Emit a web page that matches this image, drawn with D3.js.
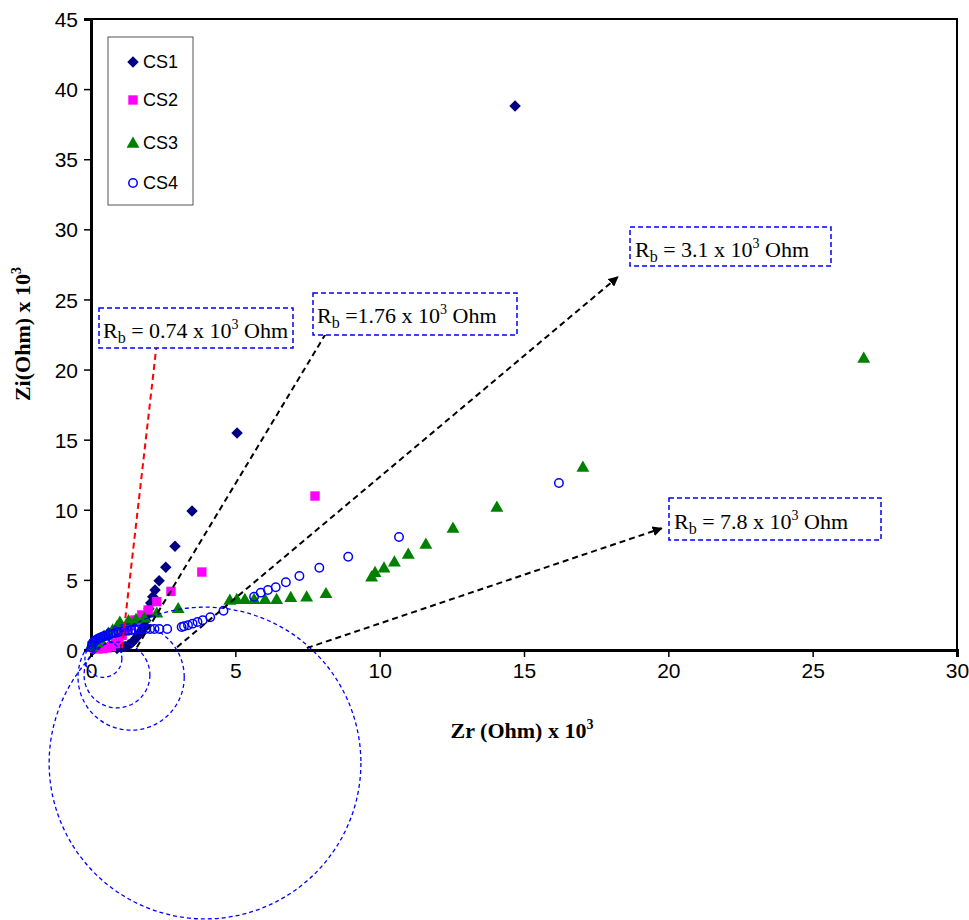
<!DOCTYPE html>
<html>
<head>
<meta charset="utf-8">
<script src="https://cdn.jsdelivr.net/npm/d3@7"></script>
<style>
  body { margin: 0; background: #fff; }
  svg { display: block; }
</style>
</head>
<body>
<svg id="chart" width="969" height="920"></svg>
<script>
// ---- data: Nyquist points, Zr and Zi in units of 10^3 Ohm ----
const seriesNames = ["CS1", "CS2", "CS3", "CS4"];

const cs1 = [[0.9,0.1],[1.05,0.18],[1.18,0.25],[1.3,0.35],[1.4,0.5],[1.48,0.66],[1.56,0.86],[1.63,1.05],
  [1.7,1.25],[1.77,1.45],[1.84,1.75],[1.9,2.1],[1.96,2.5],[2.01,2.95],[2.07,3.35],[2.14,3.8],[2.22,4.28],
  [2.36,4.94],[2.59,5.9],[2.91,7.4],[3.5,9.91],[5.06,15.48],[14.69,38.8]];

const cs2 = [[0.03,0.3],[0.12,0.12],[0.25,0.08],[0.4,0.1],[0.55,0.15],[0.7,0.25],[0.85,0.45],[0.97,0.75],
  [1.08,1.05],[1.2,1.35],[1.35,1.75],[1.52,2.14],[1.76,2.5],[1.98,2.85],[2.28,3.45],[2.77,4.18],
  [3.84,5.56],[7.76,10.98]];

const cs3 = [[0.03,0.2],[0.1,0.35],[0.2,0.55],[0.32,0.78],[0.45,1.0],[0.6,1.22],[0.75,1.45],[0.9,1.7],
  [1.0,2.0],[1.3,2.1],[1.56,2.2],[1.85,2.3],[2.28,2.65],[3.02,2.97],[4.81,3.57],[5.05,3.62],[5.33,3.62],
  [5.65,3.62],[6.03,3.62],[6.43,3.62],[6.92,3.76],[7.47,3.8],[8.14,4.04],[9.72,5.23],[9.84,5.54],
  [10.15,5.87],[10.51,6.3],[10.99,6.85],[11.6,7.56],[12.54,8.7],[14.06,10.2],[17.04,13.05],[26.77,20.83]];

const cs4 = [[0.02,0.2],[0.04,0.35],[0.06,0.5],[0.1,0.6],[0.15,0.68],[0.2,0.75],[0.26,0.82],[0.32,0.88],
  [0.38,0.93],[0.45,0.98],[0.52,1.03],[0.6,1.08],[0.68,1.13],[0.77,1.18],[0.86,1.23],[0.96,1.28],
  [1.06,1.33],[1.17,1.37],[1.28,1.4],[1.4,1.43],[1.52,1.45],[1.65,1.47],[1.78,1.48],[1.9,1.49],
  [2.05,1.5],[2.2,1.5],[2.37,1.5],[2.64,1.5],[3.14,1.64],[3.22,1.69],[3.36,1.76],[3.52,1.88],
  [3.69,2.0],[3.87,2.12],[4.13,2.33],[4.59,2.8],[5.65,3.8],[5.88,4.09],[6.13,4.28],[6.4,4.47],
  [6.75,4.83],[7.22,5.28],[7.91,5.87],[8.91,6.65],[10.67,8.06],[16.21,11.91]];

const xTicks = [0, 5, 10, 15, 20, 25, 30];
const yTicks = [0, 5, 10, 15, 20, 25, 30, 35, 40, 45];

// bulk-resistance readings (10^3 Ohm) shown in the call-out boxes
const rbValues = ["0.74", "1.76", "3.1", "7.8"];
const rbEquals = [" = ", " =", " = ", " = "];

// fitted semicircle outlines: centre (Zr, Zi) and radius in Zr units
const fitCircles = [
  { cx: 0.43, cy: -0.63, r: 0.64 },
  { cx: 0.90, cy: -1.78, r: 1.14 },
  { cx: 1.39, cy: -1.93, r: 1.84 },
  { cx: 3.95, cy: -8.06, r: 5.40 }
];

// arrows from each intercept up to its call-out box (Zr, Zi)
const rbArrows = [
  { from: [1.07, 0.14], to: [2.32, 22.6] },
  { from: [1.59, 0.2],  to: [8.38, 23.4] },
  { from: [2.98, 0.2],  to: [18.25, 26.6] },
  { from: [7.48, 0.14], to: [19.77, 8.68] }
];

// ---- layout ----
const plot = { left: 91, right: 957, top: 19, bottom: 650 };
const colors = { CS1: "#000080", CS2: "#FF00FF", CS3: "#008000", CS4: "#0000FF" };
const boxes = [
  { x: 99,  y: 308, w: 194, h: 40, tx: 103, ty: 338 },
  { x: 313, y: 293, w: 204, h: 42, tx: 317, ty: 323 },
  { x: 630, y: 227, w: 201, h: 39, tx: 635, ty: 257 },
  { x: 669, y: 498, w: 212, h: 42, tx: 674, ty: 529 }
];
const arrowColors = ["#FF0000", "#000000", "#000000", "#000000"];

const svg = d3.select("#chart");
const x = d3.scaleLinear().domain([0, 30]).range([plot.left, plot.right]);
const y = d3.scaleLinear().domain([0, 45]).range([plot.bottom, plot.top]);

// plot frame (top and right edges)
svg.append("path")
  .attr("d", `M${plot.left},${plot.top}H${plot.right}V${plot.bottom}`)
  .attr("fill", "none").attr("stroke", "#000").attr("stroke-width", 2);

// axes
const xAxis = svg.append("g").attr("transform", `translate(0,${plot.bottom})`)
  .call(d3.axisBottom(x).tickValues(xTicks).tickSize(7).tickPadding(6).tickFormat(d3.format("d")));
const yAxis = svg.append("g").attr("transform", `translate(${plot.left},0)`)
  .call(d3.axisLeft(y).tickValues(yTicks).tickSize(7).tickPadding(6).tickFormat(d3.format("d")));
[xAxis, yAxis].forEach(g => {
  g.select(".domain").attr("stroke", "#000").attr("stroke-width", 3);
  g.selectAll(".tick line").attr("stroke", "#000").attr("stroke-width", 1.5);
  g.selectAll(".tick text").attr("fill", "#000")
    .style("font-family", "'Liberation Sans', Arial, sans-serif").style("font-size", "21px");
});
yAxis.selectAll(".tick text").attr("dy", "0.36em");

// axis titles
const xTitle = svg.append("text").attr("x", 522).attr("y", 738).attr("text-anchor", "middle")
  .style("font-family", "'Liberation Serif', 'Times New Roman', serif")
  .style("font-size", "22px").style("font-weight", "bold");
xTitle.append("tspan").text("Zr (Ohm) x 10");
xTitle.append("tspan").attr("dy", -9).style("font-size", "14px").text("3");

const yTitle = svg.append("text").attr("transform", "translate(30,334) rotate(-90)")
  .attr("text-anchor", "middle")
  .style("font-family", "'Liberation Serif', 'Times New Roman', serif")
  .style("font-size", "22px").style("font-weight", "bold");
yTitle.append("tspan").text("Zi(Ohm) x 10");
yTitle.append("tspan").attr("dy", -9).style("font-size", "14px").text("3");

// markers
const symbolFor = {
  CS1: d3.symbol().type(d3.symbolSquare).size(66),
  CS2: d3.symbol().type(d3.symbolSquare).size(88),
  CS3: d3.symbol().type(d3.symbolTriangle).size(72),
  CS4: d3.symbol().type(d3.symbolCircle).size(56)
};
function drawMarker(g, name, px, py) {
  const p = g.append("path").attr("d", symbolFor[name]());
  if (name === "CS1") p.attr("transform", `translate(${px},${py}) rotate(45)`);
  else if (name === "CS3") p.attr("transform", `translate(${px},${py + 1})`);
  else p.attr("transform", `translate(${px},${py})`);
  if (name === "CS4") p.attr("fill", "none").attr("stroke", colors[name]).attr("stroke-width", 1.5);
  else p.attr("fill", colors[name]);
  return p;
}

const allSeries = [cs1, cs2, cs3, cs4];
allSeries.forEach((pts, i) => {
  const name = seriesNames[i];
  const g = svg.append("g").attr("class", "series-" + name);
  pts.forEach(d => drawMarker(g, name, x(d[0]), y(d[1])));
});

// fitted circles (dashed blue)
svg.append("g").selectAll("ellipse").data(fitCircles).join("ellipse")
  .attr("cx", d => x(d.cx)).attr("cy", d => y(d.cy))
  .attr("rx", d => x(d.r) - x(0)).attr("ry", d => x(d.r) - x(0))
  .attr("fill", "none").attr("stroke", "#0000FF").attr("stroke-width", 1.3)
  .attr("stroke-dasharray", "4,3");

// arrow heads
const defs = svg.append("defs");
["#FF0000", "#000000"].forEach((c, i) => {
  defs.append("marker").attr("id", "ah" + i)
    .attr("viewBox", "0 0 10 10").attr("refX", 9).attr("refY", 5)
    .attr("markerWidth", 10).attr("markerHeight", 10).attr("markerUnits", "userSpaceOnUse")
    .attr("orient", "auto")
    .append("path").attr("d", "M0,0L10,5L0,10Z").attr("fill", c);
});
svg.append("g").selectAll("line").data(rbArrows).join("line")
  .attr("x1", d => x(d.from[0])).attr("y1", d => y(d.from[1]))
  .attr("x2", d => x(d.to[0])).attr("y2", d => y(d.to[1]))
  .attr("stroke", (d, i) => arrowColors[i]).attr("stroke-width", 2)
  .attr("stroke-dasharray", "6,4")
  .attr("marker-end", (d, i) => i === 0 ? "url(#ah0)" : "url(#ah1)");

// call-out boxes
boxes.forEach((b, i) => {
  svg.append("rect").attr("x", b.x).attr("y", b.y).attr("width", b.w).attr("height", b.h)
    .attr("fill", "#fff").attr("stroke", "#0000FF").attr("stroke-width", 1.5)
    .attr("stroke-dasharray", "5,3");
  const t = svg.append("text").attr("x", b.tx).attr("y", b.ty)
    .style("font-family", "'Liberation Serif', 'Times New Roman', serif").style("font-size", "22px")
    .attr("fill", "#000");
  t.append("tspan").text("R");
  t.append("tspan").attr("dy", 5).style("font-size", "16px").text("b");
  t.append("tspan").attr("dy", -5).text(rbEquals[i] + rbValues[i] + " x 10");
  t.append("tspan").attr("dy", -9).style("font-size", "14px").text("3");
  t.append("tspan").attr("dy", 9).text(" Ohm");
});

// legend
const legend = svg.append("g");
legend.append("rect").attr("x", 108).attr("y", 37).attr("width", 85).attr("height", 168)
  .attr("fill", "#fff").attr("stroke", "#555").attr("stroke-width", 1);
const legendY = [62, 100, 143, 183];
seriesNames.forEach((name, i) => {
  drawMarker(legend, name, 133, legendY[i]);
  legend.append("text").attr("x", 143).attr("y", legendY[i]).attr("dy", "0.36em")
    .style("font-family", "'Liberation Sans', Arial, sans-serif").style("font-size", "18px")
    .attr("fill", "#000").text(name);
});
</script>
</body>
</html>
